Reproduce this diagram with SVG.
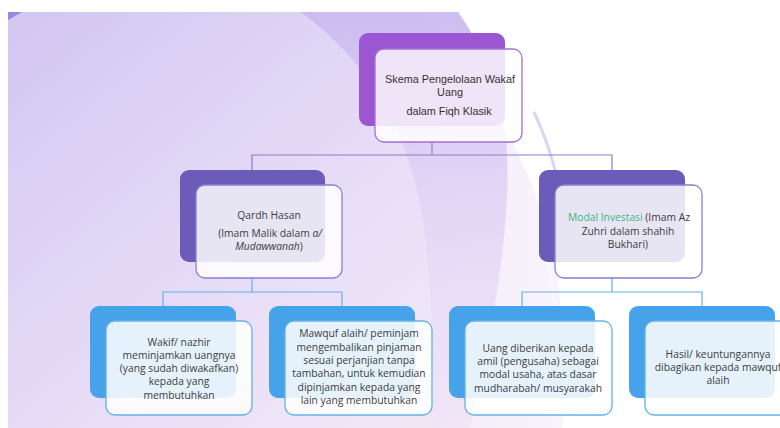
<svg xmlns="http://www.w3.org/2000/svg" width="780" height="428" viewBox="0 0 780 428">
  <defs>
    <linearGradient id="lav" x1="0" y1="0" x2="1" y2="1">
      <stop offset="0" stop-color="#d2c6f2"/>
      <stop offset="0.45" stop-color="#e3d9f6"/>
      <stop offset="0.75" stop-color="#eee4f8"/>
      <stop offset="1" stop-color="#f4e8f6"/>
    </linearGradient>
    <linearGradient id="band" x1="0" y1="0" x2="0" y2="1">
      <stop offset="0" stop-color="#c6b3ee"/>
      <stop offset="0.35" stop-color="#dccdf4"/>
      <stop offset="1" stop-color="#eadff7" stop-opacity="0.3"/>
    </linearGradient>
    <linearGradient id="fade" x1="0" y1="0" x2="1" y2="0">
      <stop offset="0" stop-color="#efe6f8"/>
      <stop offset="1" stop-color="#f7f2fb"/>
    </linearGradient>
    <style>
      .back1 { fill: #9b57d1; }
      .back2 { fill: #6a5cb8; }
      .back3 { fill: #46a3ea; }
      .front1 { fill: #ffffff; fill-opacity: 0.84; stroke: #a56edb; stroke-width: 1.3; }
      .front2 { fill: #ffffff; fill-opacity: 0.84; stroke: #8a7ed3; stroke-width: 1.3; }
      .front3 { fill: #ffffff; fill-opacity: 0.86; stroke: #64b1ec; stroke-width: 1.3; }
      .lineP { fill: none; stroke: #8f7ad0; stroke-width: 1.2; }
      .lineB { fill: none; stroke: #62b2ee; stroke-width: 1.2; }
      .t { font-family: "Open Sans", "Noto Sans", sans-serif; font-size: 10.3px; fill: #3c3c3c; text-anchor: middle; }
      .r { font-family: "Liberation Sans", Arial, sans-serif; font-size: 10.8px; fill: #333333; text-anchor: middle; }
      .green { fill: #3bb57c; }
      .it { font-style: italic; }
    </style>
  </defs>

  <!-- page background -->
  <rect x="0" y="0" width="780" height="428" fill="#ffffff"/>
  <!-- pale wash to the right of the main swoosh -->
  <path d="M500,120 C530,170 552,230 560,300 C566,350 566,390 562,428 H440 C470,330 480,220 500,120 Z" fill="url(#fade)" opacity="0.8"/>
  <path d="M8,12 H458 C484,48 500,96 506,140 C512,200 500,300 470,428 H8 Z" fill="url(#lav)"/>
  <!-- sweeping band behind the top node -->
  <path d="M300,12 H458 C484,48 500,96 506,140 C512,200 500,300 470,428 H428 C434,360 432,290 424,225 C412,140 370,60 300,12 Z" fill="url(#band)" opacity="0.75"/>
  <path d="M534,112 C552,150 566,200 567,262" fill="none" stroke="#c4afe9" stroke-width="3" opacity="0.55"/>
  <path d="M548,260 C556,300 558,340 552,390" fill="none" stroke="#ffffff" stroke-width="2" opacity="0.5"/>
  <path d="M8,12 H22 L8,20 Z" fill="#9d86e2"/>

  <!-- connectors -->
  <g id="connectors">
    <path class="lineP" d="M432,142 V155 M252,170 V155 H612 V170"/>
    <path class="lineB" d="M252,278 V292 M163,307 V292 H342 V307"/>
    <path class="lineB" d="M612,278 V292 M522,307 V292 H702 V307"/>
  </g>

  <!-- top node -->
  <g id="root">
    <rect class="back1" x="359" y="33" width="146" height="93" rx="9"/>
    <rect class="front1" x="375" y="49" width="147" height="93" rx="9"/>
    <text class="r" x="450" y="83">Skema Pengelolaan Wakaf</text>
    <text class="r" x="450" y="96">Uang</text>
    <text class="r" x="449" y="115">dalam Fiqh Klasik</text>
  </g>

  <!-- second level -->
  <g id="qardh-hasan">
    <rect class="back2" x="180" y="170" width="145" height="92" rx="9"/>
    <rect class="front2" x="196" y="185" width="146" height="93" rx="9"/>
    <text class="t" x="269" y="219">Qardh Hasan</text>
    <text class="t" x="270" y="237">(Imam Malik dalam <tspan class="it">a/</tspan></text>
    <text class="t" x="269" y="250"><tspan class="it">Mudawwanah</tspan>)</text>
  </g>

  <g id="modal-investasi">
    <rect class="back2" x="539" y="170" width="146" height="92" rx="9"/>
    <rect class="front2" x="555" y="185" width="147" height="93" rx="9"/>
    <text class="t" x="629" y="221"><tspan class="green">Modal Investasi</tspan> (Imam Az</text>
    <text class="t" x="628" y="234.5">Zuhri dalam shahih</text>
    <text class="t" x="628" y="248">Bukhari)</text>
  </g>

  <!-- third level -->
  <g id="wakif-nazhir">
    <rect class="back3" x="90" y="306" width="146" height="92" rx="9"/>
    <rect class="front3" x="106" y="321" width="146" height="94" rx="9"/>
    <text class="t" x="179" y="345.5">Wakif/ nazhir</text>
    <text class="t" x="179" y="358.8">meminjamkan uangnya</text>
    <text class="t" x="179" y="372.1">(yang sudah diwakafkan)</text>
    <text class="t" x="179" y="385.4">kepada yang</text>
    <text class="t" x="179" y="398.7">membutuhkan</text>
  </g>

  <g id="mawquf-alaih">
    <rect class="back3" x="269" y="306" width="146" height="92" rx="9"/>
    <rect class="front3" x="285" y="321" width="147" height="94" rx="9"/>
    <text class="t" x="359" y="337.3">Mawquf alaih/ peminjam</text>
    <text class="t" x="359" y="350.6">mengembalikan pinjaman</text>
    <text class="t" x="359" y="363.9">sesuai perjanjian tanpa</text>
    <text class="t" x="359" y="377.2">tambahan, untuk kemudian</text>
    <text class="t" x="359" y="390.5">dipinjamkan kepada yang</text>
    <text class="t" x="359" y="403.8">lain yang membutuhkan</text>
  </g>

  <g id="uang-diberikan">
    <rect class="back3" x="449" y="306" width="146" height="92" rx="9"/>
    <rect class="front3" x="465" y="321" width="147" height="94" rx="9"/>
    <text class="t" x="538" y="351.7">Uang diberikan kepada</text>
    <text class="t" x="538" y="365">amil (pengusaha) sebagai</text>
    <text class="t" x="538" y="378.3">modal usaha, atas dasar</text>
    <text class="t" x="538" y="391.6">mudharabah/ musyarakah</text>
  </g>

  <g id="hasil-keuntungan">
    <rect class="back3" x="629" y="306" width="146" height="92" rx="9"/>
    <rect class="front3" x="645" y="321" width="146" height="94" rx="9"/>
    <text class="t" x="718" y="357.8">Hasil/ keuntungannya</text>
    <text class="t" x="718" y="371.1">dibagikan kepada mawquf</text>
    <text class="t" x="718" y="384.4">alaih</text>
  </g>
</svg>
